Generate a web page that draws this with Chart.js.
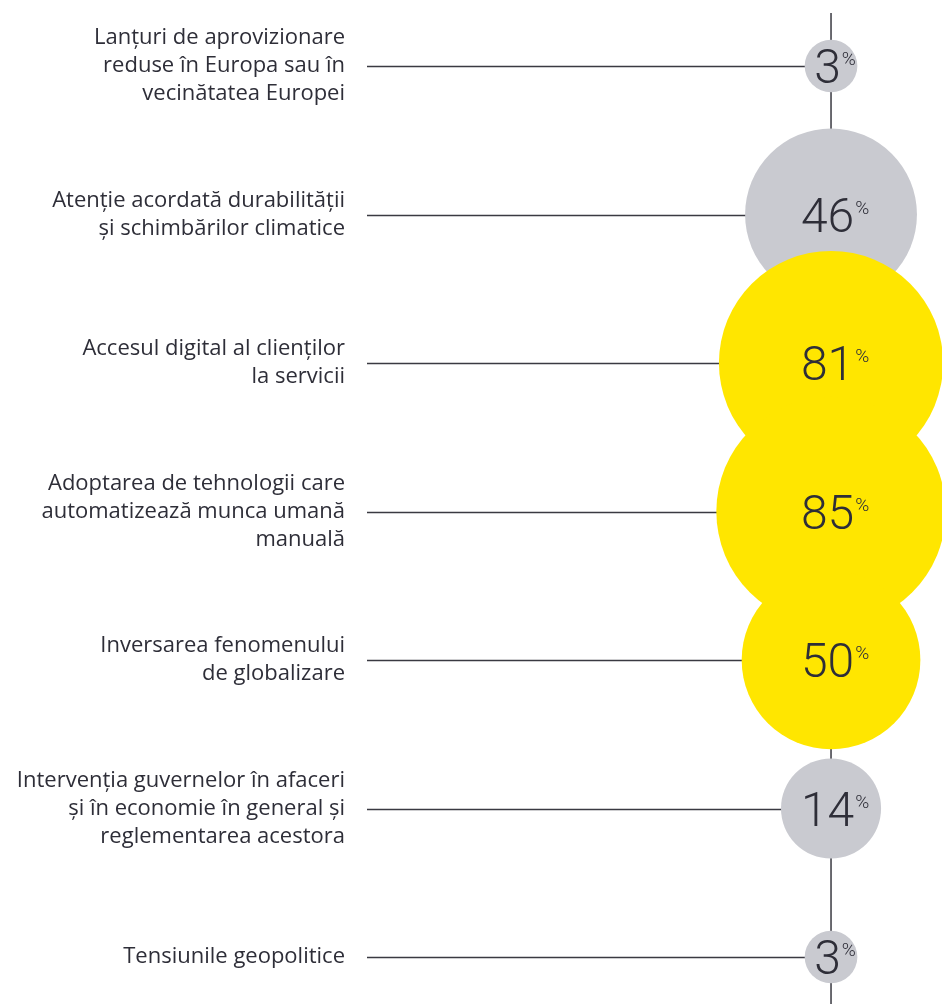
<!DOCTYPE html>
<html>
<head>
<meta charset="utf-8">
<script src="https://cdn.jsdelivr.net/npm/chart.js@4/dist/chart.umd.min.js"></script>
<style>
  html, body { margin: 0; padding: 0; background: #ffffff; }
  #wrap { width: 942px; height: 1004px; position: relative; }
</style>
</head>
<body>
<div id="wrap"><canvas id="c"></canvas></div>
<script>
// ---- data ----
const categories = [
  ['Lanțuri de aprovizionare', 'reduse în Europa sau în', 'vecinătatea Europei'],
  ['Atenție acordată durabilității', 'și schimbărilor climatice'],
  ['Accesul digital al clienților', 'la servicii'],
  ['Adoptarea de tehnologii care', 'automatizează munca umană', 'manuală'],
  ['Inversarea fenomenului', 'de globalizare'],
  ['Intervenția guvernelor în afaceri', 'și în economie în general și', 'reglementarea acestora'],
  ['Tensiunile geopolitice']
];
const values = [3, 46, 81, 85, 50, 14, 3];
const valueSuffix = '%';

// ---- styles ----
const YELLOW = '#ffe600';
const GREY = '#c9cad0';
const INK = '#2e2e38';
const LINE = '#3a3a42';
const NUM_FONT = 'Roboto';
const LABEL_FONT = '"Open Sans"';

// bubble radius encodes value (area-like scale)
const radiusFor = v => 11.8 * Math.sqrt(v) + 5.9;

const bubbleData = values.map((v, i) => ({ x: 0, y: i, r: radiusFor(v) }));

const guides = {
  id: 'guides',
  beforeDatasetsDraw(chart) {
    const { ctx, chartArea, scales: { x, y } } = chart;
    const cx = x.getPixelForValue(0);
    ctx.save();
    ctx.strokeStyle = LINE;
    ctx.lineWidth = 1.5;
    ctx.beginPath();
    ctx.moveTo(cx, chartArea.top - 53);
    ctx.lineTo(cx, chart.height);
    values.forEach((v, i) => {
      const py = Math.round(y.getPixelForValue(i)) + 0.5;
      ctx.moveTo(chartArea.left, py);
      ctx.lineTo(cx, py);
    });
    ctx.stroke();
    ctx.restore();
  },
  afterDatasetsDraw(chart) {
    const { ctx } = chart;
    const meta = chart.getDatasetMeta(0);
    ctx.save();
    ctx.fillStyle = INK;
    ctx.textAlign = 'left';
    ctx.textBaseline = 'alphabetic';
    meta.data.forEach((el, i) => {
      const num = String(values[i]);
      ctx.font = `300 48px ${NUM_FONT}`;
      const nw = ctx.measureText(num).width;
      ctx.font = `300 19px ${NUM_FONT}`;
      const pw = ctx.measureText(valueSuffix).width;
      const gap = 1;
      const total = nw + gap + pw;
      const sx = el.x - total / 2 + 4;
      ctx.font = `300 48px ${NUM_FONT}`;
      ctx.fillText(num, sx, el.y + 17);
      ctx.font = `300 19px ${NUM_FONT}`;
      ctx.fillText(valueSuffix, sx + nw + gap, el.y - 1);
    });
    ctx.restore();
  }
};

new Chart(document.getElementById('c'), {
  type: 'bubble',
  data: {
    labels: categories,
    datasets: [{
      data: bubbleData,
      backgroundColor: ctx => (values[ctx.dataIndex] >= 50 ? YELLOW : GREY),
      borderWidth: 0,
      hoverBorderWidth: 0,
      clip: false
    }]
  },
  options: {
    responsive: true,
    maintainAspectRatio: false,
    animation: false,
    events: [],
    layout: { autoPadding: false, padding: { top: 66, bottom: 47, left: 0, right: 0 } },
    plugins: { legend: { display: false }, tooltip: { enabled: false } },
    scales: {
      x: {
        type: 'linear',
        display: false,
        min: -0.807,
        max: 0.193
      },
      y: {
        type: 'category',
        labels: categories,
        offset: false,
        grid: { display: false, drawTicks: false },
        border: { display: false },
        afterFit(scale) {
          scale.width = 367;
          scale.paddingTop = 0;
          scale.paddingBottom = 0;
        },
        ticks: {
          autoSkip: false,
          padding: 22,
          color: INK,
          font: { family: LABEL_FONT, size: 22, weight: '400', lineHeight: 1.27 }
        }
      }
    }
  },
  plugins: [guides]
});
</script>
</body>
</html>
